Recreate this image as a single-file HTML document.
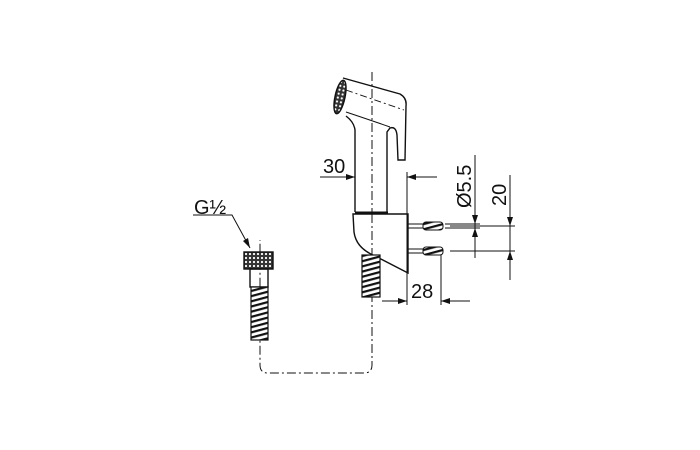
<!DOCTYPE html>
<html><head><style>body{margin:0;background:#fff}svg{display:block}</style></head><body>
<svg width="700" height="450" viewBox="0 0 700 450" xmlns="http://www.w3.org/2000/svg" font-family="Liberation Sans, sans-serif">
<defs>
<pattern id="th" width="6" height="5" patternUnits="userSpaceOnUse" patternTransform="rotate(-15)">
<rect width="6" height="5" fill="#fff"/><rect y="0" width="6" height="2.2" fill="#111"/></pattern>
<pattern id="kn" width="4" height="4" patternUnits="userSpaceOnUse"><rect width="4" height="4" fill="#333"/><circle cx="2" cy="2" r="1.1" fill="#fff"/></pattern>
</defs>
<g stroke="#111" fill="none" stroke-width="1.4">
<path d="M372 72 V365 Q372 373 364 373 H268 Q260 373 260 365 V240" stroke-width="1" stroke-dasharray="9,3,2,3"/>
<path d="M343 78 L400 94 Q407 98 406 106 L405 160 L398 160 L397 135 Q396 126 390 128 L387 132 V212 M355 212 V130 Q354 122 346 116"/>
<ellipse cx="340" cy="97" rx="5" ry="17" transform="rotate(12 340 97)" fill="url(#kn)"/>
<path d="M346 112 Q370 120 390 127" stroke-width="1"/>
<path d="M346 90 L404 110" stroke-width="0.9" stroke-dasharray="7,3,2,3"/>
<path d="M355 213 H388" stroke-width="3"/>
<path d="M353 214 H408 V273 L375 256 Q356 248 354 232 Z" fill="#fff"/>
<line x1="372" y1="214" x2="372" y2="260" stroke-width="1" stroke-dasharray="9,3,2,3"/>
<rect x="362" y="255" width="18" height="42" fill="url(#th)" stroke-width="1.2"/>
<path d="M408 224 H424 M408 228 H424 M408 249 H424 M408 253 H424" stroke-width="1"/>
<rect x="423" y="222" width="20" height="8" rx="3" fill="url(#th)" stroke-width="1"/>
<rect x="423" y="247" width="20" height="8" rx="3" fill="url(#th)" stroke-width="1"/>
<rect x="244" y="252" width="29" height="17" fill="url(#kn)"/>
<rect x="250" y="269" width="18" height="18"/>
<rect x="251" y="287" width="17" height="53" fill="url(#th)" stroke-width="1.2"/>
<path d="M193 215 H232 L250 248" stroke-width="1"/>
<g stroke-width="1">
<path d="M320 177 H355 M407 177 H437 M407 172 V305"/>
<path d="M382 301 H407 M441 301 H470 M441 255 V305"/>
<path d="M445 224 H480 M445 228 H480 M475 155 V258"/>
<path d="M450 226 H515 M450 251 H515 M510 175 V280"/>
</g>
</g>
<g fill="#111">
<path d="M355 177 l-9 -3 v6z M407 177 l9 -3 v6z"/>
<path d="M407 301 l-9 -3 v6z M441 301 l9 -3 v6z"/>
<path d="M475 224 l-3 -9 h6z M475 228 l-3 9 h6z"/>
<path d="M510 226 l-3 -9 h6z M510 251 l-3 9 h6z"/>
<path d="M250 248 l-7 -7 l5 -3z"/>
</g>
<g font-size="20" fill="#111">
<text x="323" y="173">30</text>
<text x="411" y="298">28</text>
<text x="194" y="214">G½</text>
<text transform="translate(471 208) rotate(-90)">Ø5.5</text>
<text transform="translate(506 206) rotate(-90)">20</text>
</g>
</svg>
</body></html>
